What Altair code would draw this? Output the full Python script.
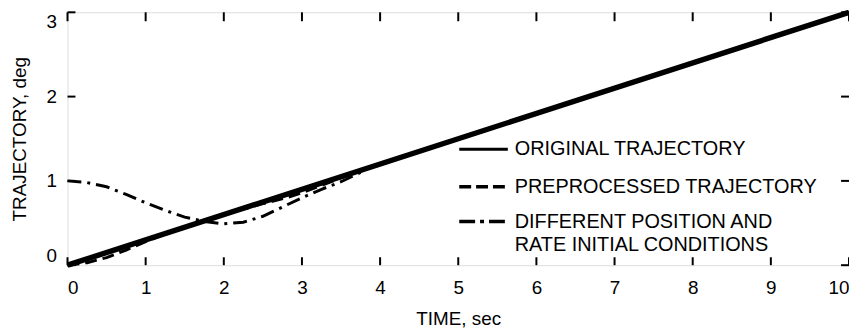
import altair as alt
import pandas as pd

# ---- data ----
time_original = [0, 10]
traj_original = [0.0, 3.0]

time_pre = [0, 0.25, 0.5, 0.75, 1.0, 1.25, 1.5, 2.0, 2.5, 2.8, 3.0, 3.2, 3.4, 3.6, 4.0, 10]
traj_pre = [0.0, 0.03, 0.09, 0.18, 0.28, 0.37, 0.45, 0.6, 0.73, 0.8, 0.86, 0.93, 1.0, 1.07, 1.2, 3.0]

time_diff = [0, 0.25, 0.5, 0.75, 1.0, 1.25, 1.5, 1.75, 2.0, 2.25, 2.5, 2.75, 3.0, 3.25, 3.5, 3.75]
traj_diff = [1.0, 0.98, 0.93, 0.84, 0.74, 0.65, 0.57, 0.52, 0.49, 0.51, 0.58, 0.69, 0.8, 0.9, 0.99, 1.1]

x_ticks = list(range(0, 11))
y_ticks = [0, 1, 2, 3]

legend_labels = ["ORIGINAL TRAJECTORY", "PREPROCESSED TRAJECTORY",
                 "DIFFERENT POSITION AND", "RATE INITIAL CONDITIONS"]

FONT = "Liberation Sans"
W, H = 788, 255

xscale = alt.Scale(domain=[0, 10], nice=False, zero=False)
yscale = alt.Scale(domain=[0, 3], nice=False, zero=False)

df_orig = pd.DataFrame({"t": time_original, "v": traj_original})
df_pre = pd.DataFrame({"t": time_pre, "v": traj_pre})
df_diff = pd.DataFrame({"t": time_diff, "v": traj_diff})
df_xt = pd.DataFrame({"t": x_ticks})
df_yt = pd.DataFrame({"v": y_ticks})

x_axis = alt.Axis(values=x_ticks, format="d", ticks=False, domain=False, grid=False,
                  labelFontSize=19, labelPadding=14, labelFont=FONT, labelColor="black",
                  title="TIME, sec", titleFontSize=19, titleFont=FONT, titleFontWeight="normal",
                  titleColor="black", titleBaseline="middle", titleY=54)
y_axis = alt.Axis(values=y_ticks, format="d", ticks=False, domain=False, grid=False,
                  labelFontSize=19, labelPadding=11, labelFont=FONT, labelColor="black",
                  labelFlush=True,
                  title="TRAJECTORY, deg", titleFontSize=19, titleFont=FONT,
                  titleFontWeight="normal", titleColor="black", titleAngle=270,
                  titleBaseline="middle", titleX=-48)

pre = alt.Chart(df_pre).mark_line(color="black", strokeWidth=3, strokeDash=[12, 6]).encode(
    x=alt.X("t:Q", scale=xscale, axis=x_axis),
    y=alt.Y("v:Q", scale=yscale, axis=y_axis),
)
diff = alt.Chart(df_diff).mark_line(color="black", strokeWidth=3, strokeDash=[14, 6, 3, 6]).encode(
    x=alt.X("t:Q", scale=xscale), y=alt.Y("v:Q", scale=yscale)
)
orig = alt.Chart(df_orig).mark_line(color="black", strokeWidth=5.5).encode(
    x=alt.X("t:Q", scale=xscale), y=alt.Y("v:Q", scale=yscale)
)

tick_len = 8
bottom_ticks = alt.Chart(df_xt).mark_rule(color="black", strokeWidth=2).encode(
    x=alt.X("t:Q", scale=xscale), y=alt.value(H), y2=alt.value(H - tick_len))
top_ticks = alt.Chart(df_xt).mark_rule(color="black", strokeWidth=2).encode(
    x=alt.X("t:Q", scale=xscale), y=alt.value(0), y2=alt.value(tick_len + 1))
left_ticks = alt.Chart(df_yt).mark_rule(color="black", strokeWidth=2).encode(
    y=alt.Y("v:Q", scale=yscale), x=alt.value(0), x2=alt.value(tick_len))
right_ticks = alt.Chart(df_yt).mark_rule(color="black", strokeWidth=2).encode(
    y=alt.Y("v:Q", scale=yscale), x=alt.value(W), x2=alt.value(W - tick_len))

# ---- manual legend ----
LX0, LX1, TX = 395, 444, 451
rows_y = [138, 176, 211, 235]
dashes = [None, [12, 5], [16, 5, 4, 5]]
widths = [3, 3.5, 3.5]
legend_layers = []
for i in range(3):
    kw = dict(color="black", strokeWidth=widths[i])
    if dashes[i]:
        kw["strokeDash"] = dashes[i]
    legend_layers.append(
        alt.Chart(pd.DataFrame({"label": [legend_labels[i]]})).mark_rule(**kw).encode(
            x=alt.value(LX0), x2=alt.value(LX1), y=alt.value(rows_y[i])))
for i, lab in enumerate(legend_labels):
    legend_layers.append(
        alt.Chart(pd.DataFrame({"label": [lab]})).mark_text(
            align="left", baseline="middle", font=FONT, fontSize=20, color="black").encode(
            text="label:N", x=alt.value(TX), y=alt.value(rows_y[i])))

chart = alt.layer(pre, diff, orig, bottom_ticks, top_ticks, left_ticks, right_ticks,
                  *legend_layers).properties(
    width=W, height=H,
    autosize=alt.AutoSizeParams(type="none"),
    padding={"left": 60, "top": 3, "right": 0, "bottom": 62},
).configure_view(stroke="black", strokeWidth=2.5).configure(background="white")

chart.save("out.html", embed_options={"renderer": "svg", "actions": False})
